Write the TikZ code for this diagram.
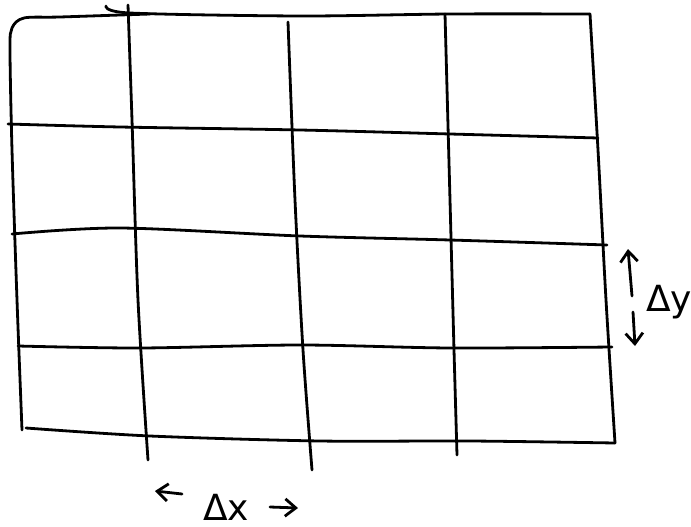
\documentclass[tikz,border=0pt]{standalone}
\usepackage{fontspec}
\setmainfont{DejaVu Sans}
\usetikzlibrary{arrows.meta}
\begin{document}
\begin{tikzpicture}[x=0.75pt,y=-0.75pt,
  pen/.style={line width=2.1pt,line cap=round,line join=round,black},
  lbl/.style={font=\fontsize{27}{29}\selectfont,inner sep=0pt},
  harr/.style={pen,-{Straight Barb[length=8pt,width=13pt,line width=2.1pt]}}]
\useasboundingbox (0,0) rectangle (691,527);
% outer frame
\draw[pen] plot[smooth] coordinates {(22,430) (17,300) (12,150) (10,50) (12,28) (24,18) (60,17) (150,14)};
\draw[pen] plot[smooth] coordinates {(106,6) (130,13) (300,16) (450,14) (590,14)};
\draw[pen] plot[smooth] coordinates {(590,14) (598,150) (606,300) (615,443)};
\draw[pen] plot[smooth] coordinates {(26,428) (150,436) (320,441) (470,441) (615,443)};
% horizontal lines
\draw[pen] plot[smooth] coordinates {(8,124) (120,127) (300,130) (450,134) (598,138)};
\draw[pen] plot[smooth] coordinates {(12,234) (120,228) (300,236) (450,240) (607,245)};
\draw[pen] plot[smooth] coordinates {(18,346) (140,348) (300,345) (450,348) (612,347)};
% vertical lines
\draw[pen] plot[smooth] coordinates {(128,5) (132,120) (138,300) (148,460)};
\draw[pen] plot[smooth] coordinates {(288,22) (295,200) (303,350) (312,470)};
\draw[pen] plot[smooth] coordinates {(445,14) (450,200) (454,350) (457,455)};
% labels
\node[lbl] (dx) at (226,507) {Δx};
\node[lbl] (dy) at (669,302) {Δy};
\coordinate (dxl) at (155,491);
\coordinate (dxr) at (298,508);
\coordinate (dyt) at (628,249);
\coordinate (dyb) at (635,346);
\draw[harr] (182,494) -- (dxl);
\draw[harr] (270,507) -- (dxr);
\draw[harr] (632,296) -- (dyt);
\draw[harr] (633,312) -- (dyb);
\end{tikzpicture}
\end{document}
